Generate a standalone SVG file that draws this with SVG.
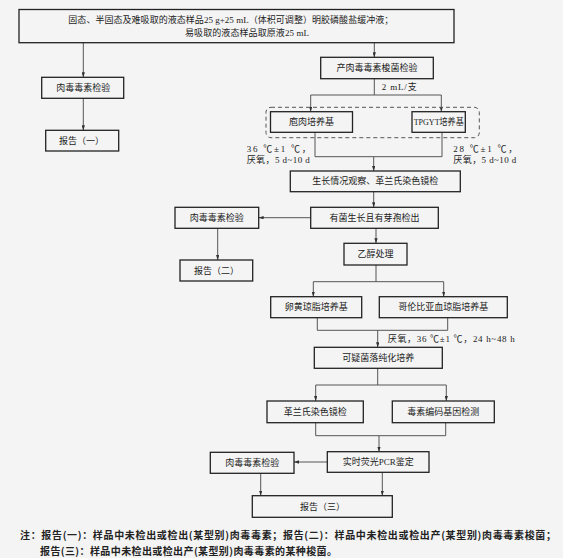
<svg xmlns="http://www.w3.org/2000/svg" width="563" height="558" viewBox="0 0 563 558">
<style>
.bg{fill:#f4f4f4}
.box rect{fill:none;stroke:#222;stroke-width:1.3}
.t{font-family:"Liberation Serif","Noto Sans CJK SC",serif;font-size:9px;fill:#222;dominant-baseline:central}
.c{text-anchor:middle}
.conn line,.conn polyline{stroke:#555;stroke-width:1;fill:none}
.arr{marker-end:url(#ah)}
.dash{fill:none;stroke:#555;stroke-width:1;stroke-dasharray:4 3}
.note{font-family:"Noto Sans CJK SC",sans-serif;font-size:10px;font-weight:bold;fill:#222;dominant-baseline:central}
</style>
<defs>
<marker id="ah" viewBox="0 0 6 4" refX="6" refY="2" markerWidth="5" markerHeight="3.5" markerUnits="userSpaceOnUse" orient="auto">
<path d="M0,0 L6,2 L0,4 Z" fill="#333"/>
</marker>
</defs>
<rect class="bg" x="0" y="0" width="563" height="558"/>

<g id="connectors" class="conn">
<line class="arr" x1="83.3" y1="42.7" x2="83.3" y2="77.3"/>
<line class="arr" x1="83.3" y1="98.3" x2="83.3" y2="130.3"/>
<line class="arr" x1="374.3" y1="42.7" x2="374.3" y2="57.3"/>
<line x1="374.3" y1="78.7" x2="374.3" y2="95"/>
<line x1="310.7" y1="95" x2="441.3" y2="95"/>
<line class="arr" x1="310.7" y1="95" x2="310.7" y2="111.7"/>
<line class="arr" x1="441.3" y1="95" x2="441.3" y2="111.7"/>
<polyline points="315,132.3 315,156.7 442,156.7 442,132.3"/>
<line class="arr" x1="373.7" y1="156.7" x2="373.7" y2="171"/>
<line class="arr" x1="373.7" y1="191.7" x2="373.7" y2="207.3"/>
<line class="arr" x1="310.7" y1="217.7" x2="258.7" y2="217.7"/>
<line class="arr" x1="217.7" y1="228.3" x2="217.7" y2="260"/>
<line class="arr" x1="376" y1="228.3" x2="376" y2="243.3"/>
<line x1="376" y1="265" x2="376" y2="281.7"/>
<line x1="313.3" y1="281.7" x2="443.7" y2="281.7"/>
<line class="arr" x1="313.3" y1="281.7" x2="313.3" y2="296.7"/>
<line class="arr" x1="443.7" y1="281.7" x2="443.7" y2="296.7"/>
<polyline points="317.3,317.7 317.3,330.3 447.7,330.3 447.7,317.7"/>
<line class="arr" x1="377.7" y1="330.3" x2="377.7" y2="347.3"/>
<line x1="377.7" y1="368.3" x2="377.7" y2="385"/>
<line x1="315.7" y1="385" x2="446.3" y2="385"/>
<line class="arr" x1="315.7" y1="385" x2="315.7" y2="401"/>
<line class="arr" x1="446.3" y1="385" x2="446.3" y2="401"/>
<polyline points="315.7,422.7 315.7,435.7 445.7,435.7 445.7,422.7"/>
<line class="arr" x1="379" y1="435.7" x2="379" y2="451.7"/>
<line class="arr" x1="327.3" y1="462" x2="294" y2="462"/>
<line class="arr" x1="260.7" y1="473.3" x2="260.7" y2="495.7"/>
<line class="arr" x1="382.3" y1="472.3" x2="382.3" y2="495.7"/>
</g>

<rect class="dash" x="266" y="107.3" width="213.3" height="30.4" rx="5"/>

<g id="n-sample" class="box">
<rect x="19" y="9.5" width="435" height="33.2"/>
<text class="t" x="68.3" y="19.8" textLength="325" lengthAdjust="spacing">固态、半固态及难吸取的液态样品25 g+25 mL（体积可调整）明胶磷酸盐缓冲液；</text>
<text class="t" x="185" y="32.5" textLength="124" lengthAdjust="spacing">易吸取的液态样品取原液25 mL</text>
</g>
<g id="n-toxin1" class="box">
<rect x="41.7" y="77.3" width="82" height="21"/>
<text class="t c" x="83.3" y="87.8">肉毒毒素检验</text>
</g>
<g id="n-report1" class="box">
<rect x="45.7" y="130.3" width="73" height="20.7"/>
<text class="t" x="59" y="140.7">报告（一）</text>
</g>
<g id="n-bact" class="box">
<rect x="320.7" y="57.3" width="112.6" height="21.4"/>
<text class="t c" x="377" y="68">产肉毒毒素梭菌检验</text>
</g>
<text class="t" x="381.7" y="87.3" textLength="35" lengthAdjust="spacing">2 mL/支</text>
<g id="n-cooked" class="box">
<rect x="270.5" y="111.7" width="82" height="20.6"/>
<text class="t c" x="311.5" y="122">庖肉培养基</text>
</g>
<g id="n-tpgyt" class="box">
<rect x="412" y="111.7" width="53.3" height="20.6"/>
<text class="t c" x="438.7" y="122" textLength="50" lengthAdjust="spacingAndGlyphs">TPGYT培养基</text>
</g>
<text class="t" x="246.7" y="149.3" textLength="64" lengthAdjust="spacing">36 ℃±1 ℃，</text>
<text class="t" x="246.7" y="160" textLength="63" lengthAdjust="spacing">厌氧，5 d~10 d</text>
<text class="t" x="453.3" y="149.3" textLength="64" lengthAdjust="spacing">28 ℃±1 ℃，</text>
<text class="t" x="453.3" y="160" textLength="63" lengthAdjust="spacing">厌氧，5 d~10 d</text>
<g id="n-growth" class="box">
<rect x="290.3" y="171" width="170" height="20.7"/>
<text class="t c" x="375.3" y="181.4">生长情况观察、革兰氏染色镜检</text>
</g>
<g id="n-spore" class="box">
<rect x="310.7" y="207.3" width="127.6" height="21"/>
<text class="t c" x="374.5" y="217.8">有菌生长且有芽孢检出</text>
</g>
<g id="n-toxin2" class="box">
<rect x="175" y="207.3" width="83.7" height="21"/>
<text class="t c" x="216.8" y="217.8">肉毒毒素检验</text>
</g>
<g id="n-report2" class="box">
<rect x="180" y="260" width="72.7" height="21"/>
<text class="t" x="194" y="270.5">报告（二）</text>
</g>
<g id="n-ethanol" class="box">
<rect x="344" y="243.3" width="63" height="21.7"/>
<text class="t c" x="375.5" y="254.2">乙醇处理</text>
</g>
<g id="n-egg" class="box">
<rect x="270.7" y="296.7" width="91" height="21"/>
<text class="t c" x="316.2" y="307.2">卵黄琼脂培养基</text>
</g>
<g id="n-columbia" class="box">
<rect x="379.3" y="296.7" width="128" height="21"/>
<text class="t c" x="443.3" y="307.2">哥伦比亚血琼脂培养基</text>
</g>
<text class="t" x="387.7" y="339.3" textLength="127" lengthAdjust="spacing">厌氧，36 ℃±1 ℃，24 h~48 h</text>
<g id="n-purify" class="box">
<rect x="314.3" y="347.3" width="128" height="21"/>
<text class="t c" x="378.3" y="357.8">可疑菌落纯化培养</text>
</g>
<g id="n-gram" class="box">
<rect x="267" y="401" width="96.3" height="21.7"/>
<text class="t c" x="315.2" y="411.8">革兰氏染色镜检</text>
</g>
<g id="n-gene" class="box">
<rect x="392.3" y="401" width="102" height="21.7"/>
<text class="t c" x="443.3" y="411.8">毒素编码基因检测</text>
</g>
<g id="n-pcr" class="box">
<rect x="327.3" y="451.7" width="101.7" height="20.6"/>
<text class="t c" x="378.2" y="462">实时荧光PCR鉴定</text>
</g>
<g id="n-toxin3" class="box">
<rect x="210.3" y="452.3" width="83.7" height="21"/>
<text class="t c" x="252.2" y="462.8">肉毒毒素检验</text>
</g>
<g id="n-report3" class="box">
<rect x="252.3" y="495.7" width="140" height="21.6"/>
<text class="t" x="300" y="506.5">报告（三）</text>
</g>

<text class="note" x="20" y="534.5" textLength="536" lengthAdjust="spacing">注：报告(一)：样品中未检出或检出(某型别)肉毒毒素；报告(二)：样品中未检出或检出产(某型别)肉毒毒素梭菌；</text>
<text class="note" x="40" y="550.5" textLength="297" lengthAdjust="spacing">报告(三)：样品中未检出或检出产(某型别)肉毒毒素的某种梭菌。</text>
</svg>
